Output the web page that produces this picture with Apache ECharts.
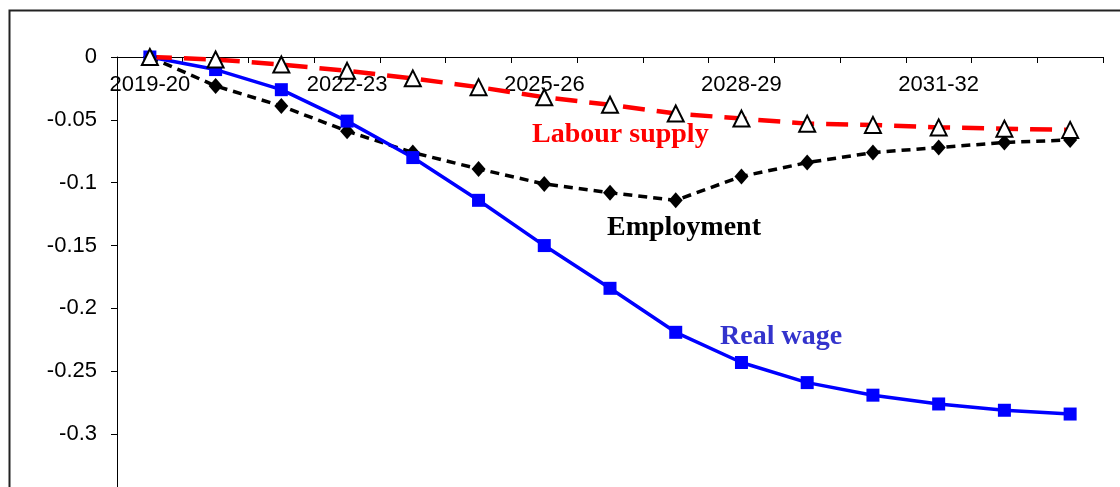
<!DOCTYPE html>
<html>
<head>
<meta charset="utf-8">
<script src="https://cdn.jsdelivr.net/npm/echarts@6/dist/echarts.min.js"></script>
<style>
  html, body { margin: 0; padding: 0; background: #fff; }
  #chart { width: 1120px; height: 487px; }
</style>
</head>
<body>
<div id="chart"></div>
<script>
const years = [
  "2019-20", "2020-21", "2021-22", "2022-23", "2023-24", "2024-25", "2025-26",
  "2026-27", "2027-28", "2028-29", "2029-30", "2030-31", "2031-32", "2032-33", "2033-34"
];

const labourSupply = [0, -0.002, -0.006, -0.011, -0.017, -0.024, -0.032, -0.038,
  -0.045, -0.049, -0.053, -0.054, -0.056, -0.057, -0.058];
const employment = [0, -0.023, -0.039, -0.059, -0.076, -0.089, -0.101, -0.108,
  -0.114, -0.095, -0.084, -0.076, -0.072, -0.068, -0.066];
const realWage = [0, -0.010, -0.026, -0.051, -0.080, -0.114, -0.150, -0.184,
  -0.219, -0.243, -0.259, -0.269, -0.276, -0.281, -0.284];

const serif = "'Liberation Serif', 'Times New Roman', serif";
const sans = "'Liberation Sans', Arial, sans-serif";

const chart = echarts.init(document.getElementById("chart"));

const option = {
  animation: false,
  backgroundColor: "#fff",
  grid: { left: 117, right: 17, top: 57, bottom: -10, outerBoundsMode: "none", containLabel: false },
  xAxis: {
    type: "category",
    position: "top",
    data: years,
    boundaryGap: true,
    axisLine: { onZero: false, lineStyle: { color: "#000", width: 1 } },
    axisTick: { show: true, inside: true, interval: 0, length: 6, lineStyle: { color: "#000" } },
    axisLabel: {
      inside: true,
      interval: 2,
      margin: 17,
      color: "#000",
      fontFamily: sans,
      fontSize: 22,
    },
    splitLine: { show: false },
  },
  yAxis: {
    type: "value",
    min: -0.35,
    max: 0,
    interval: 0.05,
    axisLine: { show: true, lineStyle: { color: "#000", width: 1 } },
    axisTick: { show: true, length: 6, lineStyle: { color: "#000" } },
    axisLabel: {
      margin: 20,
      color: "#000",
      fontFamily: sans,
      fontSize: 22,
      formatter: (v) => {
        if (v < -0.32) return "";
        return String(Math.round(v * 100) / 100);
      },
    },
    splitLine: { show: false },
  },
  graphic: [
    {
      type: "rect",
      left: 7,
      top: 8,
      shape: { width: 1200, height: 600 },
      style: { fill: "none", stroke: "#222", lineWidth: 2 },
      silent: true,
    },
    {
      type: "text",
      left: 532,
      top: 121,
      style: { text: "Labour supply", fill: "#ff0000", font: "bold 28px " + serif },
    },
    {
      type: "text",
      left: 607,
      top: 214,
      style: { text: "Employment", fill: "#000", font: "bold 28px " + serif },
    },
    {
      type: "text",
      left: 720,
      top: 323,
      style: { text: "Real wage", fill: "#3333cc", font: "bold 28px " + serif },
    },
  ],
  series: [
    {
      name: "Employment",
      type: "line",
      data: employment,
      symbol: "diamond",
      symbolSize: [14, 16],
      itemStyle: { color: "#000" },
      lineStyle: { color: "#000", width: 3.5, type: [9, 6] },
    },
    {
      name: "Real wage",
      type: "line",
      data: realWage,
      symbol: "rect",
      symbolSize: 13,
      itemStyle: { color: "#0000ff" },
      lineStyle: { color: "#0000ff", width: 3.5 },
    },
    {
      name: "Labour supply",
      type: "line",
      data: labourSupply,
      symbol: "triangle",
      symbolSize: [16, 16],
      itemStyle: { color: "#fff", borderColor: "#000", borderWidth: 2 },
      lineStyle: { color: "#ff0000", width: 4.5, type: [22, 12] },
    },
  ],
};

chart.setOption(option);
</script>
</body>
</html>
